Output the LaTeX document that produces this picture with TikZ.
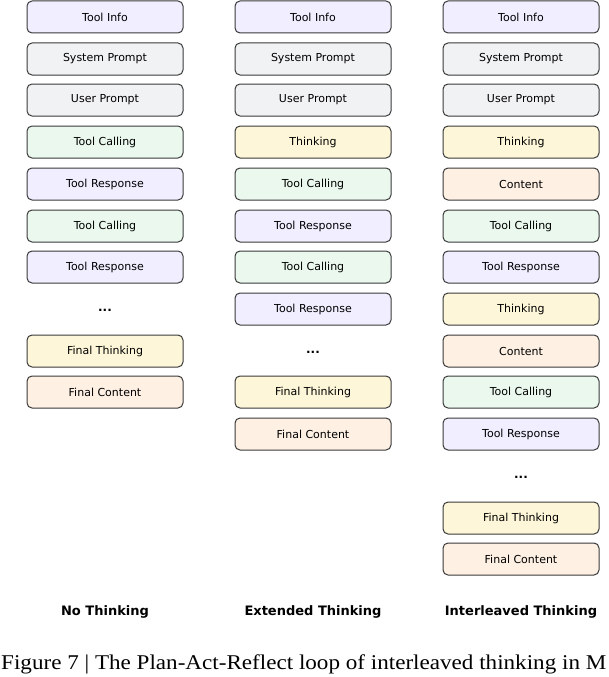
\documentclass[tikz,border=0pt]{standalone}
\usepackage{fontspec}
\setmainfont{DejaVu Sans}
\newfontfamily\capfont{Liberation Serif}
\usepackage{tikz}

\definecolor{infoC}{HTML}{F0EEFF}
\definecolor{promptC}{HTML}{F1F2F4}
\definecolor{callC}{HTML}{EAF8EE}
\definecolor{thinkC}{HTML}{FDF6D8}
\definecolor{contC}{HTML}{FEF1E4}
\definecolor{edgeC}{HTML}{3A3A3A}

\tikzset{
  blk/.style={draw=edgeC, line width=1pt, rounded corners=5pt,
    minimum width=156pt, minimum height=32pt, font=\fontsize{11}{12}\selectfont},
  dots/.style={font=\bfseries\fontsize{12}{12}\selectfont},
  title/.style={font=\bfseries\fontsize{13}{14}\selectfont}
}

\begin{document}
\begin{tikzpicture}[x=1pt,y=-1pt]
\useasboundingbox (0,0) rectangle (609,677);
% No Thinking
\foreach \lab/\col/\y [count=\i] in {Tool Info/infoC/17, System Prompt/promptC/59,
  User Prompt/promptC/100, Tool Calling/callC/142, Tool Response/infoC/184,
  Tool Calling/callC/226, Tool Response/infoC/267, Final Thinking/thinkC/351,
  Final Content/contC/392}
  \node[blk, fill=\col] (a\i) at (105,\y) {\lab};
\node[dots] (adots) at (105,310) {...};
% Extended Thinking
\foreach \lab/\col/\y [count=\i] in {Tool Info/infoC/17, System Prompt/promptC/59,
  User Prompt/promptC/100, Thinking/thinkC/142, Tool Calling/callC/184,
  Tool Response/infoC/226, Tool Calling/callC/267, Tool Response/infoC/309,
  Final Thinking/thinkC/392, Final Content/contC/434}
  \node[blk, fill=\col] (b\i) at (313,\y) {\lab};
\node[dots] (bdots) at (313,352) {...};
% Interleaved Thinking
\foreach \lab/\col/\y [count=\i] in {Tool Info/infoC/17, System Prompt/promptC/59,
  User Prompt/promptC/100, Thinking/thinkC/142, Content/contC/184,
  Tool Calling/callC/226, Tool Response/infoC/267, Thinking/thinkC/309,
  Content/contC/351, Tool Calling/callC/392, Tool Response/infoC/434,
  Final Thinking/thinkC/518, Final Content/contC/559}
  \node[blk, fill=\col] (c\i) at (521,\y) {\lab};
\node[dots] (cdots) at (521,477) {...};
% Titles
\node[title] (ta) at (105,612) {No Thinking};
\node[title] (tb) at (313,612) {Extended Thinking};
\node[title] (tc) at (521,612) {Interleaved Thinking};
% Caption
\node[anchor=west, inner sep=0pt, xscale=1.1, transform shape,
  font=\capfont\fontsize{21}{24}\selectfont] (cap) at (1,664)
  {Figure 7 | The Plan-Act-Reflect loop of interleaved thinking in M};
\end{tikzpicture}
\end{document}
